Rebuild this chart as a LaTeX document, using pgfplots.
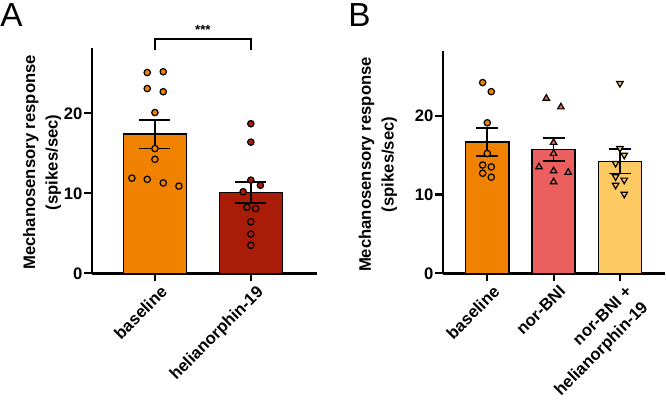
\documentclass[border=0pt]{standalone}
\usepackage{pgfplots}
\pgfplotsset{compat=1.18}
\usepackage{fontspec}
\setmainfont{Liberation Sans}
\definecolor{cOrange}{HTML}{F08200}
\definecolor{cDark}{HTML}{A81C08}
\definecolor{cSalmon}{HTML}{EB5F5F}
\definecolor{cYellow}{HTML}{FDC962}
\begin{document}
\begin{tikzpicture}
\path[use as bounding box] (0,0) rectangle (499.5pt,310.5pt);
\pgfplotsset{
  panel/.style={
    scale only axis,
    anchor=south west,
    axis lines=left,
    axis line style={-, line width=2pt, black},
    ymin=0,
    ytick={0,10,20},
    tick align=outside,
    major tick length=6pt,
    tick style={black, line width=1.6pt},
    xtick pos=bottom, ytick pos=left,
    /pgf/number format/assume math mode=true,
    tick label style={font=\fontsize{12.5}{17}\selectfont\bfseries},
    yticklabel style={inner sep=1pt},
    xticklabel style={rotate=45, anchor=north east, align=right, inner sep=1pt, xshift=2pt, yshift=-3pt},
    clip=false,
  },
  ylab/.style 2 args={every axis y label/.style={at={(axis description cs:#1,#2)}, rotate=90, anchor=center,
      font=\fontsize{12.5}{17}\selectfont\bfseries, align=center}},
  errb/.style={draw=none, mark=none, forget plot,
    error bars/.cd, y dir=both, y explicit,
    error bar style={draw=black, solid, line width=1.3pt},
    error mark options={rotate=90, draw=black, solid, line width=1.3pt, mark size=#1}},
  pts/.style={only marks, mark=#1, mark size=2.4pt},
}
% ---------------- Panel A ----------------
\begin{axis}[panel,
  at={(69pt,105.5pt)},
  width=168.75pt, height=169.2pt,
  xmin=-0.656, xmax=1.69, ymax=28.2,
  xtick={0,1},
  xticklabels={baseline, helianorphin-19},
  ylabel={Mechanosensory response\\(spikes/sec)},
  ylab={-0.222}{0.492},
]
\addplot[ybar, bar width=0.656, fill=cOrange, draw=black, line width=1pt] coordinates {(0,17.4)};
\addplot[ybar, bar width=0.656, fill=cDark, draw=black, line width=1pt] coordinates {(1,10.07)};
\addplot[pts=*, mark options={fill=cOrange, draw=black, line width=0.9pt}] coordinates {
(-0.08,25.1) (0.087,25.2) (-0.08,23.1) (0.087,22.7) (0,20.1) (0,15.6) (0,14.25)
(-0.24,11.9) (-0.08,11.75) (0.087,11.3) (0.25,10.9)};
\addplot[pts=*, mark options={fill=cDark, draw=black, line width=0.9pt}] coordinates {
(1,18.7) (1,16.4) (1,11.65) (1.1,11.0) (0.92,10.2) (0.96,8.25) (1.05,8.1)
(1,6.45) (1,4.9) (1,3.5)};
\addplot[errb=11.6pt] coordinates {(0,17.4) +- (0,1.8) (1,10.1) +- (0,1.35)};
\draw[line width=1.5pt] (axis cs:0,27.9) -- (axis cs:0,29.3) -- (axis cs:1,29.3) -- (axis cs:1,27.9);
\node[anchor=base, font=\fontsize{10}{12}\selectfont\bfseries, inner sep=0pt] at (axis cs:0.5,29.9) {***};
\end{axis}
% ---------------- Panel B ----------------
\begin{axis}[panel,
  at={(332.25pt,105.5pt)},
  width=166.5pt, height=167pt,
  xmin=-0.668, xmax=2.68, ymax=28.25,
  xtick={0,1,2},
  xticklabels={baseline, nor-BNI, {nor-BNI +\\helianorphin-19}},
  ylabel={Mechanosensory response\\(spikes/sec)},
  ylab={-0.293}{0.489},
]
\addplot[ybar, bar width=0.65, fill=cOrange, draw=black, line width=1pt] coordinates {(0,16.65)};
\addplot[ybar, bar width=0.65, fill=cSalmon, draw=black, line width=1pt] coordinates {(1,15.7)};
\addplot[ybar, bar width=0.65, fill=cYellow, draw=black, line width=1pt] coordinates {(2,14.2)};
\addplot[pts=*, mark options={fill=cOrange, draw=black, line width=0.9pt}] coordinates {
(-0.07,24.2) (0.06,23.05) (0,19.1) (0,15.2) (-0.07,13.74) (0.06,13.5) (-0.07,12.7) (0.06,12.2)};
\addplot[pts=triangle*, mark size=2.8pt, mark options={fill=cSalmon, draw=black, line width=0.9pt}] coordinates {
(0.89,22.2) (1.11,21.1) (1,16.6) (1,15.2) (0.78,13.5) (1,13.0) (1.22,12.8) (1,11.6)};
\addplot[pts=triangle*, mark size=2.8pt, mark options={fill=cYellow, draw=black, line width=0.9pt, rotate=180}] coordinates {
(2,24.1) (2,15.85) (2.065,15.0) (1.935,13.96) (1.935,12.26) (2.065,11.84) (1.935,11.2) (2.065,10.06)};
\addplot[errb=8.25pt] coordinates {(0,16.65) +- (0,1.75) (1,15.7) +- (0,1.45) (2,14.2) +- (0,1.55)};
\end{axis}
\node[anchor=north west, inner sep=0pt, font=\fontsize{25}{30}\selectfont] at (0pt,308pt) {A};
\node[anchor=north west, inner sep=0pt, font=\fontsize{25}{30}\selectfont] at (261pt,308pt) {B};
\end{tikzpicture}
\end{document}
